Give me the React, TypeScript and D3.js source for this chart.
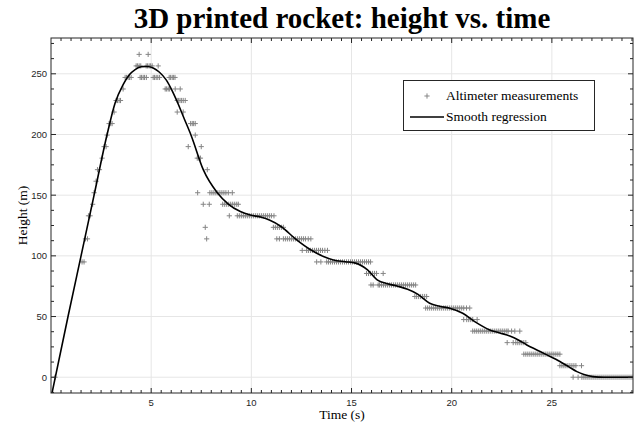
import React from "react";
import * as d3 from "d3";

// ---- data ----
const levelHeights = [
  0, 9.5, 19, 28.5, 38, 47.5, 57, 66.5, 76, 85.5, 95, 104.5, 114, 123.5, 133,
  142.5, 152, 161.5, 171, 180.5, 190, 199.5, 209, 218.5, 228, 237.5, 247, 256.5, 266,
];

// measurement times (s) recorded at each altimeter level (same order as levelHeights)
const levelTimes: number[][] = [
  [0.2, 26.06, 26.31, 26.5, 26.6, 26.7, 26.8, 26.9, 27.0, 27.1, 27.2, 27.3, 27.4, 27.5, 27.6, 27.7, 27.8, 27.9, 28.0, 28.1, 28.2, 28.3, 28.4, 28.5, 28.6, 28.7, 28.8, 28.9, 29.0],
  [25.4, 25.5, 25.6, 25.7, 25.8, 25.9, 26.0, 26.1, 26.2, 26.48],
  [23.6, 23.7, 23.8, 23.9, 24.0, 24.1, 24.2, 24.3, 24.4, 24.5, 24.6, 24.7, 24.8, 24.9, 25.0, 25.1, 25.2, 25.3, 25.4],
  [22.77, 23.07, 23.2, 23.3, 23.4, 23.5, 23.6, 23.7],
  [21.05, 21.15, 21.25, 21.35, 21.45, 21.55, 21.65, 21.75, 21.85, 21.95, 22.05, 22.15, 22.25, 22.35, 22.45, 22.55, 22.65, 22.75, 22.82, 22.99, 23.15, 23.4],
  [20.6, 20.75, 20.85, 20.95, 21.05, 21.27],
  [18.7, 18.8, 18.9, 19.0, 19.1, 19.2, 19.3, 19.4, 19.5, 19.6, 19.7, 19.8, 19.9, 20.0, 20.1, 20.2, 20.3, 20.4, 20.5, 20.6, 20.74, 20.9],
  [18.16, 18.25, 18.35, 18.45, 18.55, 18.65, 18.75],
  [15.97, 16.08, 16.33, 16.4, 16.5, 16.6, 16.7, 16.8, 16.9, 17.0, 17.1, 17.2, 17.3, 17.4, 17.5, 17.6, 17.7, 17.8, 17.9, 18.0, 18.1, 18.2],
  [15.75, 15.85, 15.95, 16.05, 16.15, 16.25, 16.58],
  [1.55, 1.65, 13.26, 13.47, 13.76, 13.85, 13.95, 14.05, 14.15, 14.25, 14.35, 14.45, 14.55, 14.65, 14.75, 14.85, 14.95, 15.05, 15.15, 15.25, 15.35, 15.45, 15.55, 15.65, 15.75, 15.85, 15.95],
  [12.54, 12.76, 12.85, 12.95, 13.05, 13.15, 13.25, 13.35, 13.45, 13.55, 13.67, 13.8],
  [1.72, 1.82, 7.77, 11.27, 11.4, 11.6, 11.7, 11.8, 11.9, 12.0, 12.1, 12.2, 12.3, 12.4, 12.5, 12.6, 12.7, 12.84, 12.97],
  [7.7, 11.1, 11.2, 11.3, 11.4, 11.5, 11.6],
  [1.87, 1.95, 8.9, 9.3, 9.4, 9.5, 9.6, 9.7, 9.8, 9.9, 10.0, 10.1, 10.2, 10.3, 10.4, 10.5, 10.6, 10.7, 10.8, 10.9, 11.0, 11.13],
  [2.08, 7.6, 7.9, 8.57, 8.67, 8.77, 8.87, 8.97, 9.07, 9.17, 9.27, 9.35],
  [2.15, 7.32, 7.93, 8.03, 8.13, 8.23, 8.33, 8.43, 8.53, 8.63, 8.73, 8.85, 9.05],
  [2.25],
  [2.32, 2.42, 7.8],
  [2.55, 7.3, 7.38, 7.46],
  [2.65, 2.75, 6.85, 7.5],
  [2.8, 7.2],
  [2.9, 2.98, 3.05, 6.97, 7.05, 7.12, 7.2],
  [3.15, 6.3, 6.6],
  [3.25, 3.32, 3.4, 3.47, 6.3, 6.37, 6.44, 6.52, 6.6, 6.7],
  [3.6, 5.7, 5.77, 5.85, 5.92, 6.2, 6.45],
  [3.7, 3.77, 3.85, 3.92, 4.0, 4.45, 4.52, 4.6, 4.67, 4.76, 5.1, 5.17, 5.25, 5.33, 5.42, 5.9, 5.97, 6.05, 6.12, 6.19],
  [4.25, 4.32, 4.4, 4.48, 4.75, 4.82, 4.9, 4.97, 5.05, 5.35],
  [4.4, 4.85],
];

// smooth regression curve
const fitTime = [
  0.05, 0.85, 1.5, 2.15, 2.8, 3.2, 3.6, 3.9, 4.2, 4.5, 4.8, 5.1, 5.4, 5.75, 6.05, 6.3, 6.65, 7.0, 7.6,
  8.3, 8.85, 9.45, 9.95, 10.5, 10.9, 11.5, 12.2, 13.0, 13.6, 14.1, 14.7, 15.2, 15.8, 16.3, 16.8, 17.3,
  17.8, 18.3, 18.9, 19.4, 19.9, 20.55, 21.15, 21.9, 22.4, 22.9, 23.35, 23.75, 24.25, 24.75, 25.4, 25.85,
  26.25, 26.6, 27.05, 27.6, 28.2, 29.05,
];
const fitHeight = [
  -13, 50, 100, 150, 200, 226, 241, 249, 253.5, 255.8, 256, 254.8, 251.5, 245, 236, 227, 213, 199, 171,
  152, 142.7, 136.5, 133.6, 131.8, 129.5, 124, 114, 104.6, 99.5, 96.6, 95.2, 94, 88.4, 80, 77, 75,
  72.5, 68.5, 61, 58.5, 56.8, 52.7, 45.8, 39, 36.5, 34, 30.5, 26.6, 22.5, 18.4, 12.9, 8.5,
  4.6, 2.2, 0.5, 0, 0, 0,
];

const xMajorTicks = [5, 10, 15, 20, 25];
const yMajorTicks = [0, 50, 100, 150, 200, 250];

const titleText = "3D printed rocket: height vs. time";
const xLabelText = "Time (s)";
const yLabelText = "Height (m)";
const legendMarkerLabel = "Altimeter measurements";
const legendLineLabel = "Smooth regression";

export default function App() {
  const W = 637;
  const H = 424;
  const left = 51, right = 633, top = 38, bottom = 393;

  const x = d3.scaleLinear().domain([0, 29.05]).range([left, right]);
  const y = d3.scaleLinear().domain([-13, 279.5]).range([bottom, top]);

  const xMinor = d3.range(0.5, 29.05, 0.5).filter((v) => !xMajorTicks.includes(v));
  const yMinor = d3.range(-12.5, 279, 12.5).filter((v) => !yMajorTicks.includes(v));

  const points: [number, number][] = [];
  levelHeights.forEach((h, i) => {
    levelTimes[i].forEach((t) => points.push([t, h]));
  });

  const fitData: [number, number][] = fitTime.map((t, i) => [t, fitHeight[i]]);
  const line = d3
    .line<[number, number]>()
    .x((d) => x(d[0]))
    .y((d) => y(d[1]))
    .curve(d3.curveMonotoneX);

  const majLen = 5;
  const minLen = 3;
  const tickColor = "#262626";
  const serif = "'Liberation Serif', 'Times New Roman', serif";
  const sans = "'Liberation Sans', Arial, sans-serif";
  const ps = 2.6;
  const markerColor = "#858585";

  const plus = (cx: number, cy: number, key: string | number) => (
    <path
      key={key}
      d={`M${cx - ps},${cy}H${cx + ps}M${cx},${cy - ps}V${cy + ps}`}
      stroke={markerColor}
      strokeWidth={1}
      fill="none"
    />
  );

  return (
    <svg width={W} height={H} style={{ position: "absolute", left: 0, top: 0, background: "#fff" }}>
      <rect x={0} y={0} width={W} height={H} fill="#fff" />
      {/* grid */}
      <g stroke="#e6e6e6" strokeWidth={1}>
        {xMajorTicks.map((v) => (
          <line key={"gx" + v} x1={x(v)} x2={x(v)} y1={top} y2={bottom} />
        ))}
        {yMajorTicks.map((v) => (
          <line key={"gy" + v} x1={left} x2={right} y1={y(v)} y2={y(v)} />
        ))}
      </g>

      {/* measurements */}
      <g clipPath="url(#clip)">{points.map((p, i) => plus(x(p[0]), y(p[1]), i))}</g>
      <defs>
        <clipPath id="clip">
          <rect x={left} y={top} width={right - left} height={bottom - top} />
        </clipPath>
      </defs>

      {/* regression */}
      <path d={line(fitData) || ""} fill="none" stroke="#000" strokeWidth={1.6} clipPath="url(#clip)" />

      {/* ticks */}
      <g stroke={tickColor} strokeWidth={1}>
        {xMajorTicks.map((v) => (
          <g key={"xt" + v}>
            <line x1={x(v)} x2={x(v)} y1={bottom} y2={bottom - majLen} />
            <line x1={x(v)} x2={x(v)} y1={top} y2={top + majLen} />
          </g>
        ))}
        {xMinor.map((v) => (
          <g key={"xm" + v}>
            <line x1={x(v)} x2={x(v)} y1={bottom} y2={bottom - minLen} />
            <line x1={x(v)} x2={x(v)} y1={top} y2={top + minLen} />
          </g>
        ))}
        {yMajorTicks.map((v) => (
          <g key={"yt" + v}>
            <line x1={left} x2={left + majLen} y1={y(v)} y2={y(v)} />
            <line x1={right} x2={right - majLen} y1={y(v)} y2={y(v)} />
          </g>
        ))}
        {yMinor.map((v) => (
          <g key={"ym" + v}>
            <line x1={left} x2={left + minLen} y1={y(v)} y2={y(v)} />
            <line x1={right} x2={right - minLen} y1={y(v)} y2={y(v)} />
          </g>
        ))}
      </g>
      <rect x={left} y={top} width={right - left} height={bottom - top} fill="none" stroke={tickColor} strokeWidth={1} />

      {/* tick labels */}
      <g fontFamily={sans} fontSize={9.5} fill={tickColor}>
        {xMajorTicks.map((v) => (
          <text key={"xl" + v} x={x(v)} y={bottom + 13} textAnchor="middle">
            {v}
          </text>
        ))}
        {yMajorTicks.map((v) => (
          <text key={"yl" + v} x={left - 4} y={y(v) + 3.5} textAnchor="end">
            {v}
          </text>
        ))}
      </g>

      {/* axis labels */}
      <text x={(left + right) / 2} y={419} textAnchor="middle" fontFamily={serif} fontSize={13.5} fill="#000">
        {xLabelText}
      </text>
      <text
        transform={`translate(${26.5},${(top + bottom) / 2}) rotate(-90)`}
        textAnchor="middle"
        fontFamily={serif}
        fontSize={13.5}
        fill="#000"
      >
        {yLabelText}
      </text>

      {/* title */}
      <text x={(left + right) / 2} y={28} textAnchor="middle" fontFamily={serif} fontWeight="bold" fontSize={29} fill="#000">
        {titleText}
      </text>

      {/* legend */}
      <g>
        <rect x={403.5} y={80.5} width={191} height={50} fill="#fff" stroke="#262626" strokeWidth={1} />
        {plus(427, 96, "legplus")}
        <text x={446} y={100} fontFamily={serif} fontSize={13.5} fill="#000">
          {legendMarkerLabel}
        </text>
        <line x1={410} x2={444} y1={117} y2={117} stroke="#000" strokeWidth={1.6} />
        <text x={446} y={121} fontFamily={serif} fontSize={13.5} fill="#000">
          {legendLineLabel}
        </text>
      </g>
    </svg>
  );
}
